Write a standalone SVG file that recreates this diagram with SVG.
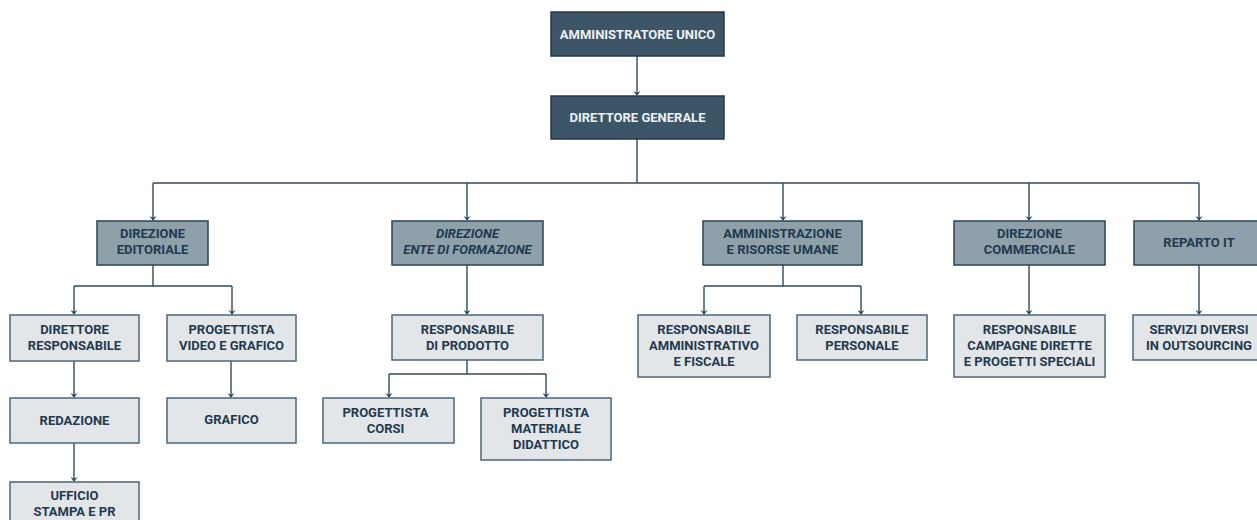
<svg xmlns="http://www.w3.org/2000/svg" width="1257" height="520" viewBox="0 0 1257 520">
<style>
text{font-family:Roboto,"Liberation Sans",sans-serif;font-weight:700;font-size:13px;text-anchor:middle}
.d rect{fill:#3c5567;stroke:#23394b;stroke-width:1.5}
.d text{fill:#eef1f3}
.m rect{fill:#8ea1ab;stroke:#2a4356;stroke-width:1.5}
.m text{fill:#1f3a50}
.l rect{fill:#e3e6e9;stroke:#4c6677;stroke-width:1.5}
.l text{fill:#1f3a50}
#connectors path{fill:none;stroke:#2f4a5e;stroke-width:1.4}
#arrowheads path{fill:#2f4a5e}
</style>
<rect width="1257" height="520" fill="#ffffff"/>
<g id="connectors">
<path d="M637,56 V95"/>
<path d="M637,139 V183 M153,183 H1199"/>
<path d="M153,183 V220"/>
<path d="M467,183 V220"/>
<path d="M783,183 V220"/>
<path d="M1029,183 V220"/>
<path d="M1199,183 V220"/>
<path d="M153,265 V286 M74,286 H232"/>
<path d="M74,286 V314"/>
<path d="M232,286 V314"/>
<path d="M74,361 V397"/>
<path d="M74,443 V481"/>
<path d="M231,361 V397"/>
<path d="M467,265 V314"/>
<path d="M467,360 V374 M389,374 H546"/>
<path d="M389,374 V397"/>
<path d="M546,374 V397"/>
<path d="M783,265 V286 M704,286 H861"/>
<path d="M704,286 V314"/>
<path d="M861,286 V314"/>
<path d="M1029,265 V314"/>
<path d="M1199,265 V314"/>
</g>
<g id="arrowheads">
<path d="M633.5,91 L637,96 L640.5,91 L637,92.8 Z"/>
<path d="M149.5,216 L153,221 L156.5,216 L153,217.8 Z"/>
<path d="M463.5,216 L467,221 L470.5,216 L467,217.8 Z"/>
<path d="M779.5,216 L783,221 L786.5,216 L783,217.8 Z"/>
<path d="M1025.5,216 L1029,221 L1032.5,216 L1029,217.8 Z"/>
<path d="M1195.5,216 L1199,221 L1202.5,216 L1199,217.8 Z"/>
<path d="M70.5,310 L74,315 L77.5,310 L74,311.8 Z"/>
<path d="M228.5,310 L232,315 L235.5,310 L232,311.8 Z"/>
<path d="M70.5,393 L74,398 L77.5,393 L74,394.8 Z"/>
<path d="M70.5,477 L74,482 L77.5,477 L74,478.8 Z"/>
<path d="M227.5,393 L231,398 L234.5,393 L231,394.8 Z"/>
<path d="M463.5,310 L467,315 L470.5,310 L467,311.8 Z"/>
<path d="M385.5,393 L389,398 L392.5,393 L389,394.8 Z"/>
<path d="M542.5,393 L546,398 L549.5,393 L546,394.8 Z"/>
<path d="M700.5,310 L704,315 L707.5,310 L704,311.8 Z"/>
<path d="M857.5,310 L861,315 L864.5,310 L861,311.8 Z"/>
<path d="M1025.5,310 L1029,315 L1032.5,310 L1029,311.8 Z"/>
<path d="M1195.5,310 L1199,315 L1202.5,310 L1199,311.8 Z"/>
</g>
<g id="amministratore-unico" class="d"><rect x="551" y="12" width="173" height="44"/><text x="637.5" y="39">AMMINISTRATORE UNICO</text></g>
<g id="direttore-generale" class="d"><rect x="551" y="96" width="173" height="43"/><text x="637.5" y="122">DIRETTORE GENERALE</text></g>
<g id="direzione-editoriale" class="m"><rect x="97" y="221" width="111" height="44"/><text x="152.5" y="238">DIREZIONE</text><text x="152.5" y="254">EDITORIALE</text></g>
<g id="direzione-ente-formazione" class="m"><rect x="392" y="221" width="151" height="44"/><text x="467.5" y="238" font-style="italic">DIREZIONE</text><text x="467.5" y="254" font-style="italic">ENTE DI FORMAZIONE</text></g>
<g id="amministrazione-risorse-umane" class="m"><rect x="703" y="221" width="159" height="44"/><text x="782.5" y="238">AMMINISTRAZIONE</text><text x="782.5" y="254">E RISORSE UMANE</text></g>
<g id="direzione-commerciale" class="m"><rect x="954" y="221" width="151" height="44"/><text x="1029.5" y="238">DIREZIONE</text><text x="1029.5" y="254">COMMERCIALE</text></g>
<g id="reparto-it" class="m"><rect x="1134" y="221" width="130" height="44"/><text x="1199" y="247">REPARTO IT</text></g>
<g id="direttore-responsabile" class="l"><rect x="10" y="315" width="129" height="46"/><text x="74.5" y="334">DIRETTORE</text><text x="74.5" y="350">RESPONSABILE</text></g>
<g id="progettista-video-grafico" class="l"><rect x="167" y="315" width="129" height="46"/><text x="231.5" y="334">PROGETTISTA</text><text x="231.5" y="350">VIDEO E GRAFICO</text></g>
<g id="redazione" class="l"><rect x="10" y="398" width="129" height="45"/><text x="74.5" y="425">REDAZIONE</text></g>
<g id="grafico" class="l"><rect x="167" y="398" width="129" height="45"/><text x="231.5" y="424">GRAFICO</text></g>
<g id="ufficio-stampa-pr" class="l"><rect x="10" y="482" width="129" height="46"/><text x="74.5" y="500">UFFICIO</text><text x="74.5" y="516">STAMPA E PR</text></g>
<g id="responsabile-prodotto" class="l"><rect x="392" y="315" width="151" height="45"/><text x="467.5" y="334">RESPONSABILE</text><text x="467.5" y="350">DI PRODOTTO</text></g>
<g id="progettista-corsi" class="l"><rect x="323" y="398" width="131" height="45"/><text x="385.5" y="417">PROGETTISTA</text><text x="385.5" y="433">CORSI</text></g>
<g id="progettista-materiale-didattico" class="l"><rect x="481" y="398" width="130" height="62"/><text x="546" y="417">PROGETTISTA</text><text x="546" y="433">MATERIALE</text><text x="546" y="449">DIDATTICO</text></g>
<g id="responsabile-amministrativo-fiscale" class="l"><rect x="638" y="315" width="132" height="62"/><text x="704" y="334">RESPONSABILE</text><text x="704" y="350">AMMINISTRATIVO</text><text x="704" y="366">E FISCALE</text></g>
<g id="responsabile-personale" class="l"><rect x="797" y="315" width="130" height="45"/><text x="862" y="334">RESPONSABILE</text><text x="862" y="350">PERSONALE</text></g>
<g id="responsabile-campagne" class="l"><rect x="954" y="315" width="151" height="62"/><text x="1029.5" y="334">RESPONSABILE</text><text x="1029.5" y="350">CAMPAGNE DIRETTE</text><text x="1029.5" y="366">E PROGETTI SPECIALI</text></g>
<g id="servizi-outsourcing" class="l"><rect x="1133" y="315" width="131" height="45"/><text x="1199" y="334">SERVIZI DIVERSI</text><text x="1199" y="350">IN OUTSOURCING</text></g>
</svg>
